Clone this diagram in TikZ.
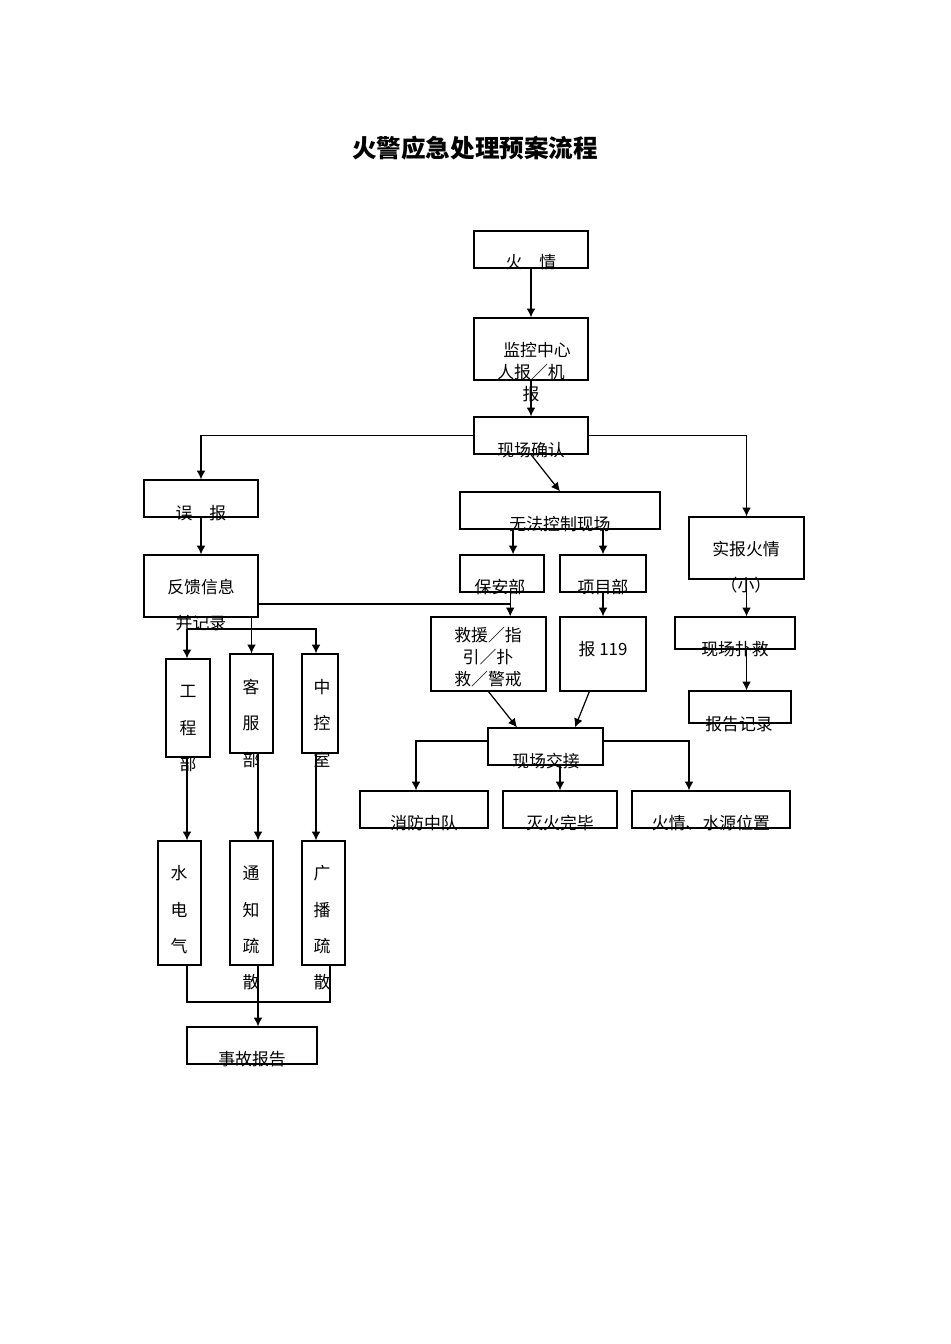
\documentclass[tikz,border=0pt]{standalone}
\usepackage{fontspec}
\setmainfont{Noto Sans CJK SC}
\usetikzlibrary{fit,arrows.meta}
\begin{document}
\begin{tikzpicture}[x=0.02cm,y=-0.02cm,
  box/.style={draw,line width=0.7pt,inner sep=0pt},
  t/.style={font=\fontsize{9.6}{10}\selectfont,inner sep=0pt,anchor=base},
  ln/.style={line width=0.7pt},
  ar/.style={ln,-{Latex[length=5pt,width=5pt]}}]
\useasboundingbox (0,0) rectangle (950,1344);
\newcommand{\bx}[5]{\node[box,fit={(#2,#3)(#4,#5)}] (#1) {};}
\node[font=\fontsize{14}{15}\selectfont\bfseries] (title) at (475,148) {火警应急处理预案流程};
\bx{fire}{474}{231}{588}{268}
\bx{mon}{474}{318}{588}{380}
\bx{conf}{474}{417}{588}{454}
\bx{wb}{144}{480}{258}{517}
\bx{wf}{460}{492}{660}{529}
\bx{sb}{689}{517}{804}{579}
\bx{fk}{144}{555}{258}{617}
\bx{ba}{460}{555}{544}{592}
\bx{xm}{560}{555}{646}{592}
\bx{pj}{675}{617}{795}{649}
\bx{jy}{431}{617}{546}{691}
\bx{b119}{560}{617}{646}{691}
\bx{bg}{689}{691}{791}{723}
\bx{jj}{488}{728}{603}{765}
\bx{gc}{166}{659}{210}{757}
\bx{kf}{230}{654}{273}{753}
\bx{zk}{302}{654}{338}{753}
\bx{xf}{360}{791}{488}{828}
\bx{mh}{503}{791}{617}{828}
\bx{sy}{632}{791}{790}{828}
\bx{sd}{158}{841}{201}{965}
\bx{tz}{230}{841}{273}{965}
\bx{gb}{302}{841}{345}{965}
\bx{sg}{187}{1027}{317}{1064}
% texts
\node[t] at (531,269) {火\quad 情};
\node[t] at (537,357) {监控中心};
\node[t] at (531,378) {人报／机};
\node[t] at (531,400) {报};
\node[t] at (531,456) {现场确认};
\node[t] at (201,519) {误\quad 报};
\node[t] at (560,530) {无法控制现场};
\node[t] at (746,555) {实报火情};
\node[t] at (746,591) {（小）};
\node[t] at (201,593) {反馈信息};
\node[t] at (201,629) {并记录};
\node[t] at (500,593) {保安部};
\node[t] at (603,593) {项目部};
\node[t] at (735,655) {现场扑救};
\node[t] at (488,641) {救援／指};
\node[t] at (488,663) {引／扑};
\node[t] at (488,685) {救／警戒};
\node[t] at (603,655) {报 119};
\node[t] at (739,730) {报告记录};
\node[t] at (546,767) {现场交接};
\node[t] at (424,829) {消防中队};
\node[t] at (560,829) {灭火完毕};
\node[t] at (711,829) {火情、水源位置};
\foreach \c/\y in {工/697,程/734,部/770} \node[t] at (188,\y) {\c};
\foreach \c/\y in {客/693,服/729,部/766} \node[t] at (251,\y) {\c};
\foreach \c/\y in {中/693,控/729,室/766} \node[t] at (322,\y) {\c};
\foreach \c/\y in {水/879,电/916,气/952} \node[t] at (179,\y) {\c};
\foreach \c/\y in {通/879,知/916,疏/952,散/988} \node[t] at (251,\y) {\c};
\foreach \c/\y in {广/879,播/916,疏/952,散/988} \node[t] at (322,\y) {\c};
\node[t] at (252,1065) {事故报告};
% connectors
\draw[ar] (fire.south) -- (mon.north);
\draw[ar] (mon.south) -- (conf.north);
\draw[ar] (conf.south) -- (wf.north);
\draw[ar] (conf.west) -| (wb.north);
\draw[ar] (conf.east) -| (sb.north);
\draw[ar] (wb.south) -- (fk.north);
\draw[ar] (wf.south -| ba.60) -- (ba.60);
\draw[ar] (wf.south -| xm.north) -- (xm.north);
\draw[ar] (ba.south -| jy.60) -- (jy.60);
\draw[ln] (fk.east |- 0,604) -| (ba.south -| jy.60);
\draw[ar] (xm.south) -- (b119.north);
\draw[ar] (sb.south) -- (pj.north -| sb.south);
\draw[ar] (pj.south -| sb.south) -- (bg.north -| sb.south);
\draw[ar] (jy.south) -- (jj.north -| 517,0);
\draw[ar] (b119.250) -- (jj.north -| 575,0);
\draw[ar] (jj.west |- 0,741) -| (xf.north -| 416,0);
\draw[ar] (jj.east |- 0,741) -| (sy.north -| 689,0);
\draw[ar] (jj.south -| mh.north) -- (mh.north);
\draw[ar] (fk.south -| kf.north) -- (kf.north);
\coordinate (h1) at (187,629);
\draw[ar] (h1) -- (gc.north -| h1);
\draw[ar] (h1) -| (zk.north -| 316,0);
\draw[ar] (gc.south -| 187,0) -- (sd.north -| 187,0);
\draw[ar] (kf.south -| 258,0) -- (tz.north -| 258,0);
\draw[ar] (zk.south -| 316,0) -- (gb.north -| 316,0);
\coordinate (h2) at (187,1002);
\draw[ln] (sd.south -| h2) -- (h2) -| (gb.south -| 330,0);
\draw[ar] (tz.south -| 258,0) -- (sg.north -| 258,0);
\end{tikzpicture}
\end{document}
